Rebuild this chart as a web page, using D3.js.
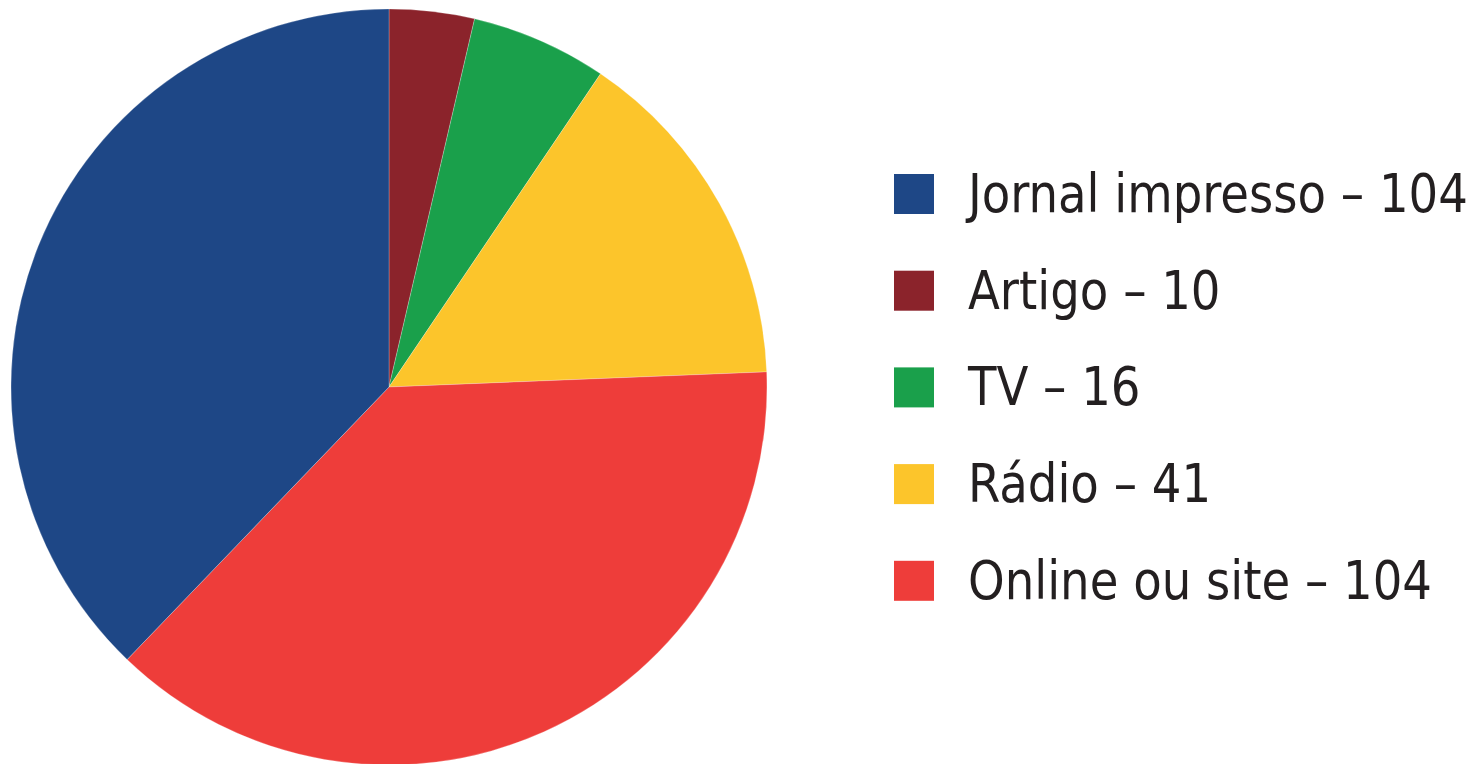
<!DOCTYPE html>
<html>
<head>
<meta charset="utf-8">
<script src="https://cdn.jsdelivr.net/npm/d3@7"></script>
<style>
  body { margin: 0; background: #fff; }
  svg { display: block; }
</style>
</head>
<body>
<svg id="chart" width="1475" height="764"></svg>
<script>
// Data, in the order the slices run clockwise from 12 o'clock
const sliceNames = ["Artigo", "TV", "Rádio", "Online ou site", "Jornal impresso"];
const sliceValues = [10, 16, 41, 104, 104];
const sliceColors = ["#8b232b", "#1aa04b", "#fcc52b", "#ee3d3a", "#1e4786"];

// Legend reads top to bottom in this order
const legendOrder = ["Jornal impresso", "Artigo", "TV", "Rádio", "Online ou site"];

const svg = d3.select("#chart");

const CX = 389, CY = 387, R = 378;

const pie = d3.pie().sort(null).value(d => d.value);
const arc = d3.arc().innerRadius(0).outerRadius(R);

const data = sliceNames.map((n, i) => ({ name: n, value: sliceValues[i], color: sliceColors[i] }));

svg.append("g")
  .attr("transform", `translate(${CX},${CY})`)
  .selectAll("path")
  .data(pie(data))
  .join("path")
  .attr("d", arc)
  .attr("fill", d => d.data.color)
  .attr("stroke", "#ffffff")
  .attr("stroke-opacity", 0.4)
  .attr("stroke-width", 0.6);

// Legend
const ROW0 = 194, ROW_GAP = 96.7, BOX = 40;
const TEXT_X = 968, LONGEST = 500; // the widest label spans ~500px in the reference
const legend = svg.append("g");
const byName = {};
data.forEach(d => byName[d.name] = d);

const labels = legendOrder.map((name, i) => {
  const d = byName[name];
  const y = ROW0 + i * ROW_GAP;
  legend.append("rect")
    .attr("x", 894)
    .attr("y", y - BOX / 2)
    .attr("width", BOX)
    .attr("height", BOX)
    .attr("fill", d.color);
  return legend.append("text")
    .attr("x", 0)
    .attr("y", 0)
    .attr("transform", `translate(${TEXT_X},${y + 18})`)
    .attr("fill", "#231f20")
    .style("font-family", "'DejaVu Sans Condensed', 'Liberation Sans Narrow', 'Noto Sans', sans-serif")
    .style("font-size", "54px")
    .text(d.name + " \u2013 " + d.value);
});

// squeeze the condensed font horizontally so the labels keep the reference width
const widest = d3.max(labels, t => t.node().getComputedTextLength());
const k = LONGEST / widest;
labels.forEach((t, i) => {
  const y = ROW0 + i * ROW_GAP;
  t.attr("transform", `translate(${TEXT_X},${y + 18}) scale(${k},1)`);
});
</script>
</body>
</html>
